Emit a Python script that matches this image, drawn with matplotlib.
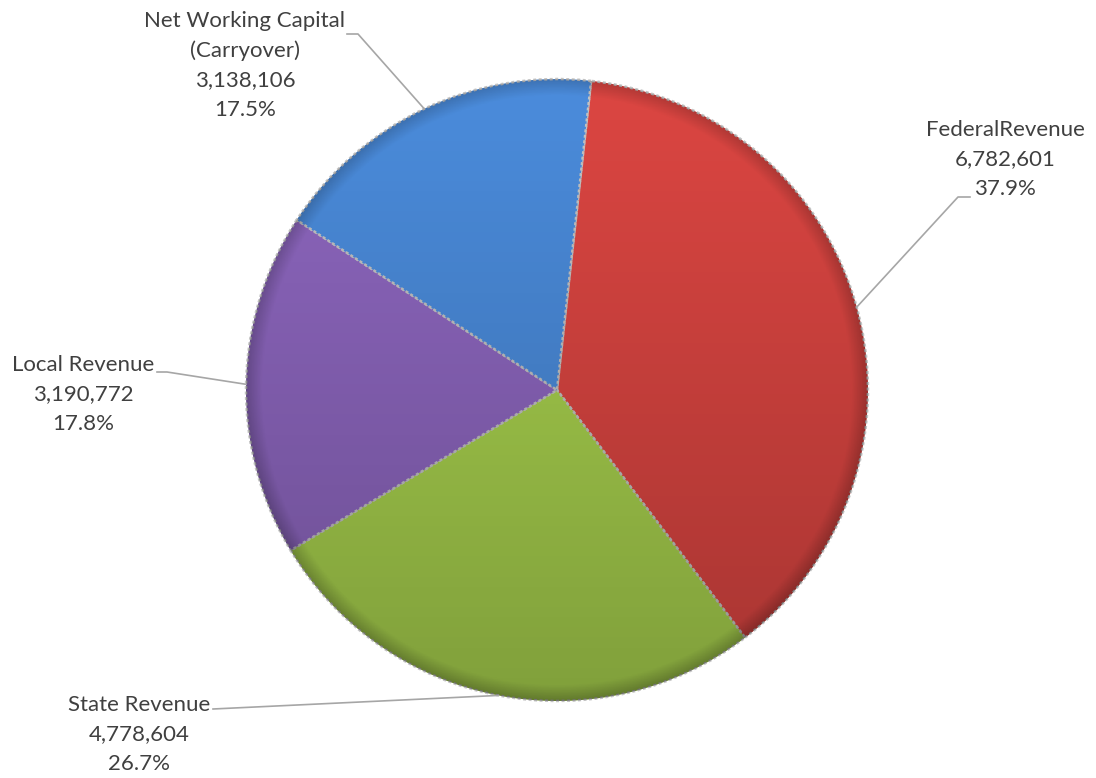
import numpy as np
import matplotlib
matplotlib.use('Agg')
import matplotlib.pyplot as plt
from matplotlib.patches import Circle

# revenue sources
labels = ['FederalRevenue', 'State Revenue', 'Local Revenue', 'Net Working Capital\n(Carryover)']
values = [6782601, 4778604, 3190772, 3138106]
colors = ['#DC4642', '#A9D24E', '#8E67C0', '#4B8CDC']

# label block placement (pixels) and leader elbows
label_pos = [(1005, 130), (139, 705), (83, 365), (245, 21)]
elbows = [[(970, 197), (958, 197)],
          [(213, 709)],
          [(157, 372), (167, 372)],
          [(347, 34), (358, 34)]]

W, H = 1096, 778
fig = plt.figure(figsize=(W / 100, H / 100), dpi=100)
ax = fig.add_axes([0, 0, 1, 1])

cx, cy, R = 557, H - 390, 311
start = 83.7

wedges, _ = ax.pie(values, colors=colors, startangle=start, counterclock=False,
                   center=(cx, cy), radius=R,
                   wedgeprops=dict(edgecolor='#C4C4C4', linewidth=1.8, linestyle=(0, (1.2, 1.0))))
ax.set_xlim(0, W)
ax.set_ylim(0, H)
ax.set_aspect('equal')
ax.axis('off')

# shading: darker toward the bottom and at the rim
n = 400
yy, xx = np.mgrid[1:-1:n * 1j, -1:1:n * 1j]
rr = np.sqrt(xx ** 2 + yy ** 2)
alpha = 0.24 * (1 - yy) / 2
alpha += np.clip((rr - 0.95) / 0.05, 0, 1) * 0.18
shade = np.zeros((n, n, 4))
shade[..., 3] = np.clip(alpha, 0, 1)
clip = Circle((cx, cy), R, transform=ax.transData)
im = ax.imshow(shade, extent=(cx - R, cx + R, cy - R, cy + R), zorder=3)
im.set_clip_path(clip)
ax.set_xlim(0, W)
ax.set_ylim(0, H)

# labels with value and percentage
total = sum(values)
angle = start
text_kw = dict(color='#404040', fontsize=16, family=['Lato', 'DejaVu Sans'],
               ha='center', va='center')
for lab, val, (lx, ly), elb in zip(labels, values, label_pos, elbows):
    sweep = 360 * val / total
    mid = np.deg2rad(angle - sweep / 2)
    angle -= sweep
    lines = lab.split('\n') + [f'{val:,}', f'{100 * val / total:.1f}%']
    for i, line in enumerate(lines):
        ax.text(lx, H - (ly + i * 29.5), line, **text_kw)
    ex, ey = cx + R * np.cos(mid), cy + R * np.sin(mid)
    pts = [(x, H - y) for x, y in elb] + [(ex, ey)]
    ax.plot([p[0] for p in pts], [p[1] for p in pts], color='#A6A6A6', lw=1.2, zorder=4)

fig.savefig('out.png', dpi=100)
